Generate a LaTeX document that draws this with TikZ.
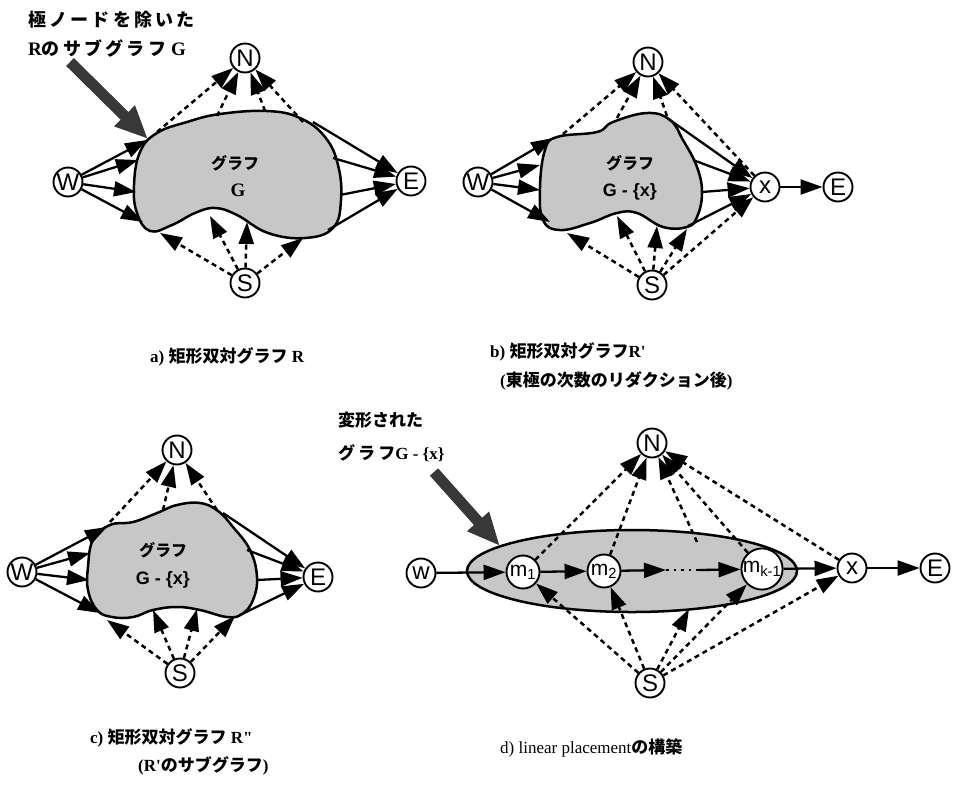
\documentclass[tikz,border=0pt]{standalone}
\usepackage{fontspec}
\setmainfont{Liberation Serif}[Ligatures=TeXOff]
\newfontfamily\jpf{Noto Sans CJK JP}
\newfontfamily\jpsp{Noto Sans CJK JP}[LetterSpace=18]
\newfontfamily\polef{Liberation Sans}
\usetikzlibrary{arrows.meta}
\begin{document}
\begin{tikzpicture}[x=1pt,y=-1pt,
 pole/.style={circle,draw,line width=1.9pt,fill=white,minimum size=29pt,inner sep=0pt,font=\polef\fontsize{24}{24}\selectfont},
 mpole/.style={pole,minimum size=33pt,font=\polef\fontsize{21}{21}\selectfont},
 bigtip/.tip={Triangle[length=22pt,width=15pt]},
 sedge/.style={line width=2.3pt,-bigtip},
 dedge/.style={line width=2.5pt,dash pattern=on 5pt off 4pt,-bigtip},
 blobfill/.style={line width=2.5pt,fill=black!22},
 pointer/.style={line width=11pt,draw=black!78,-{Triangle[length=33pt,width=27pt]}},
 lab/.style={anchor=west,inner sep=0pt,font=\bfseries\fontsize{17}{17}\selectfont},
 jlab/.style={lab,font=\jpsp\bfseries\fontsize{18}{18}\selectfont},
 inblob/.style={inner sep=0pt,font=\jpf\bfseries\fontsize{16}{16}\selectfont}
]
\useasboundingbox (0,0) rectangle (961,796);

%%%%%%%%%%%%%%%% panel a
\draw[blobfill] plot[smooth cycle,tension=0.7] coordinates {(157,133) (187,122) (220,114) (267,111) (300,118) (325,137) (338,165) (341,200) (333,228) (305,238) (268,233) (237,215) (215,208) (195,213) (172,225) (150,231) (137,213) (134,185) (140,152)};
\node[inblob] (aT1) at (235,163) {グラフ};
\node[inblob,font=\bfseries\fontsize{19}{19}\selectfont] (aT2) at (238,190) {G};
\node[pole] (aW) at (68,182) {W};
\node[pole] (aN) at (245,58) {N};
\node[pole] (aE) at (411,181) {E};
\node[pole] (aS) at (245,283) {S};
\coordinate (aw1) at (147,140); \coordinate (aw2) at (138,160);
\coordinate (aw3) at (136,192); \coordinate (aw4) at (143,222);
\coordinate (ae1) at (313,122); \coordinate (ae2) at (333,158);
\coordinate (ae3) at (340,195); \coordinate (ae4) at (328,230);
\coordinate (an1) at (157,132); \coordinate (an2) at (217,116);
\coordinate (an3) at (265,111); \coordinate (an4) at (303,122);
\coordinate (as1) at (160,233); \coordinate (as2) at (210,216);
\coordinate (as3) at (247,222); \coordinate (as4) at (303,238);
\foreach \c in {aw1,aw2,aw3,aw4} \draw[sedge] (aW) -- (\c);
\foreach \c in {ae1,ae2,ae3,ae4} \draw[sedge] (\c) -- (aE);
\foreach \c in {an1,an2,an3,an4} \draw[dedge] (\c) -- (aN);
\foreach \c in {as1,as2,as3,as4} \draw[dedge] (aS) -- (\c);
\coordinate (apS) at (70,62); \coordinate (apE) at (148,139);
\draw[pointer] (apS) -- (apE);
\node[jlab] (aA1) at (28,20) {極ノードを除いた};
\node[lab] (aA2) at (28,48) {\fontsize{19}{19}\selectfont R{\jpsp\bfseries\fontsize{18}{18}\selectfont のサブグラフ}\hspace{5pt}G};
\node[lab] (capa) at (150,357) {a) {\jpf 矩形双対グラフ} R};

%%%%%%%%%%%%%%%% panel b
\draw[blobfill] plot[smooth cycle,tension=0.7] coordinates {(557,137) (597,132) (613,122) (647,113) (670,120) (683,140) (697,167) (702,193) (697,217) (687,227) (663,227) (637,213) (617,213) (590,223) (560,230) (543,220) (540,187) (545,150)};
\node[inblob] (bT1) at (630,163) {グラフ};
\node[inblob,font=\polef\bfseries\fontsize{18}{18}\selectfont] (bT2) at (630,192) {G - \{x\}};
\node[pole] (bW) at (478,182) {W};
\node[pole] (bN) at (648,62) {N};
\node[pole] (bx) at (765,187) {x};
\node[pole] (bE) at (838,187) {E};
\node[pole] (bS) at (652,285) {S};
\coordinate (bw1) at (553,138); \coordinate (bw2) at (540,165);
\coordinate (bw3) at (540,190); \coordinate (bw4) at (550,222);
\coordinate (bx1) at (670,120); \coordinate (bx2) at (693,160);
\coordinate (bx3) at (702,192); \coordinate (bx4) at (688,226);
\coordinate (bn1) at (563,134); \coordinate (bn2) at (617,118);
\coordinate (bn3) at (667,116);
\coordinate (bs1) at (567,233); \coordinate (bs2) at (617,216);
\coordinate (bs3) at (657,226); \coordinate (bs4) at (687,229);
\foreach \c in {bw1,bw2,bw3,bw4} \draw[sedge] (bW) -- (\c);
\foreach \c in {bx1,bx2,bx3,bx4} \draw[sedge] (\c) -- (bx);
\foreach \c in {bn1,bn2,bn3} \draw[dedge] (\c) -- (bN);
\foreach \c in {bs1,bs2,bs3,bs4} \draw[dedge] (bS) -- (\c);
\draw[dedge] (bx) -- (bN);
\draw[dedge] (bS) -- (bx);
\draw[sedge] (bx) -- (bE);
\node[lab] (capb1) at (490,352) {b) {\jpf 矩形双対グラフ}R'};
\node[lab] (capb2) at (500,381) {({\jpf 東極の次数のリダクション後})};

%%%%%%%%%%%%%%%% panel c
\draw[blobfill] plot[smooth cycle,tension=0.7] coordinates {(110,525) (93,540) (88,567) (88,590) (97,610) (112,617) (133,617) (153,610) (177,607) (200,610) (227,617) (242,614) (253,600) (257,577) (250,550) (233,527) (218,511) (200,503) (177,505) (157,513) (133,522)};
\node[inblob] (cT1) at (163,550) {グラフ};
\node[inblob,font=\polef\bfseries\fontsize{18}{18}\selectfont] (cT2) at (163,580) {G - \{x\}};
\node[pole] (cW) at (22,572) {W};
\node[pole] (cN) at (177,450) {N};
\node[pole] (cE) at (318,577) {E};
\node[pole] (cS) at (180,673) {S};
\coordinate (cw1) at (107,527); \coordinate (cw2) at (90,553);
\coordinate (cw3) at (89,580); \coordinate (cw4) at (100,613);
\coordinate (ce1) at (223,513); \coordinate (ce2) at (247,550);
\coordinate (ce3) at (257,580); \coordinate (ce4) at (240,615);
\coordinate (cn1) at (110,522); \coordinate (cn2) at (163,510);
\coordinate (cn3) at (217,510);
\coordinate (cs1) at (107,620); \coordinate (cs2) at (153,610);
\coordinate (cs3) at (197,609); \coordinate (cs4) at (235,616);
\foreach \c in {cw1,cw2,cw3,cw4} \draw[sedge] (cW) -- (\c);
\foreach \c in {ce1,ce2,ce3,ce4} \draw[sedge] (\c) -- (cE);
\foreach \c in {cn1,cn2,cn3} \draw[dedge] (\c) -- (cN);
\foreach \c in {cs1,cs2,cs3,cs4} \draw[dedge] (cS) -- (\c);
\node[lab] (capc1) at (90,738) {c) {\jpf 矩形双対グラフ} R"};
\node[lab] (capc2) at (138,766) {(R'{\jpf のサブグラフ})};

%%%%%%%%%%%%%%%% panel d
\draw[blobfill] (632,571) ellipse [x radius=165, y radius=41];
\node[pole] (dw) at (421,573) {w};
\node[mpole] (dm1) at (523,572) {m\textsubscript{1}};
\node[mpole] (dm2) at (604,571) {m\textsubscript{2}};
\node[mpole,minimum size=37pt] (dmk) at (762,569) {m\textsubscript{k-1}};
\node[pole] (dx) at (852,568) {x};
\node[pole] (dE) at (935,568) {E};
\node[pole] (dN) at (652,443) {N};
\node[pole] (dS) at (650,683) {S};
\coordinate (dd1) at (666,570); \coordinate (dd2) at (699,570);
\coordinate (dnm) at (697,542); \coordinate (dsm) at (689,609);
\draw[sedge] (dw) -- (dm1);
\draw[sedge] (dm1) -- (dm2);
\draw[sedge] (dm2) -- (dd1);
\draw[line width=2.4pt,dash pattern=on 2.5pt off 5pt] (dd1) -- (dd2);
\draw[sedge] (dd2) -- (dmk);
\draw[sedge] (dmk) -- (dx);
\draw[sedge] (dx) -- (dE);
\foreach \c in {dm1,dm2,dnm,dmk,dx} \draw[dedge] (\c) -- (dN);
\foreach \c in {dm1,dm2,dsm,dmk,dx} \draw[dedge] (dS) -- (\c);
\coordinate (dpS) at (434,472); \coordinate (dpE) at (500,546);
\draw[pointer] (dpS) -- (dpE);
\node[lab,font=\jpf\bfseries\fontsize{17}{17}\selectfont] (dA1) at (338,420) {変形された};
\node[lab] (dA2) at (338,453) {{\jpsp\fontsize{17}{17}\selectfont グラフ}G - \{x\}};
\node[lab,font=\fontsize{17}{17}\selectfont] (capd) at (500,748) {d) linear placement{\jpf\bfseries の構築}};
\end{tikzpicture}
\end{document}
